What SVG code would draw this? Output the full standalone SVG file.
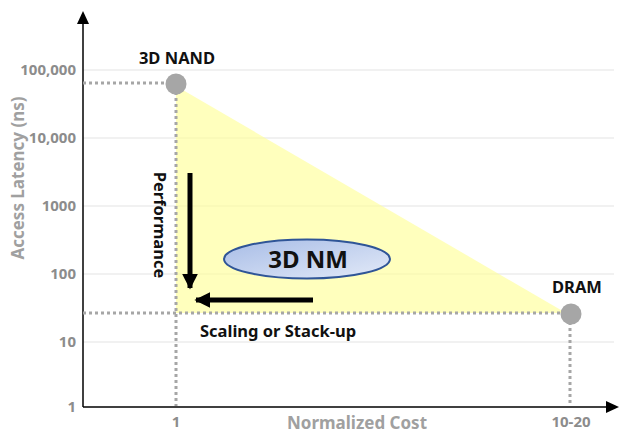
<svg xmlns="http://www.w3.org/2000/svg" width="619" height="435" viewBox="0 0 619 435">
<defs>
<style>
.grid{stroke:#e3e3e3;stroke-width:1}
.dot{stroke:#a6a6a6;stroke-width:3;stroke-dasharray:3 3;fill:none}
.tick{font-family:"Noto Sans","Liberation Sans",sans-serif;font-size:15px;font-weight:bold;fill:#8c8c8c}
.axl{font-family:"Noto Sans","Liberation Sans",sans-serif;font-size:17px;font-weight:bold;fill:#a0a0a0}
.lbl{font-family:"Noto Sans","Liberation Sans",sans-serif;font-size:16.5px;font-weight:bold;fill:#111}
.pt{fill:#a6a6a6}
.arr{stroke:#000;stroke-width:5;fill:none}
</style>
<linearGradient id="eg" x1="0" y1="0" x2="1" y2="1">
<stop offset="0" stop-color="#a7bce6"/>
<stop offset="1" stop-color="#e3eaf8"/>
</linearGradient>
<marker id="ah" viewBox="0 0 10 10" refX="9" refY="5" markerWidth="3.2" markerHeight="3.2" orient="auto" markerUnits="strokeWidth">
<path d="M0,0 L10,5 L0,10 z" fill="#000"/>
</marker>
</defs>
<rect width="619" height="435" fill="#fff"/>
<g id="grid">
<line class="grid" x1="83" y1="70" x2="614" y2="70"/>
<line class="grid" x1="83" y1="138" x2="614" y2="138"/>
<line class="grid" x1="83" y1="206" x2="614" y2="206"/>
<line class="grid" x1="83" y1="274" x2="614" y2="274"/>
<line class="grid" x1="83" y1="342" x2="614" y2="342"/>
</g>
<polygon id="region" points="176,86 176,313 566,313" fill="#ffff99" fill-opacity="0.65"/>
<g id="axes">
<line x1="83" y1="407" x2="83" y2="22" stroke="#000" stroke-width="1.5"/>
<polygon points="83,11 77,24 89,24" fill="#000"/>
<line x1="83" y1="407" x2="608" y2="407" stroke="#000" stroke-width="1.5"/>
<polygon points="619,407 606,401 606,413" fill="#000"/>
<text class="tick" x="76" y="75" text-anchor="end">100,000</text>
<text class="tick" x="76" y="143" text-anchor="end">10,000</text>
<text class="tick" x="76" y="211" text-anchor="end">1000</text>
<text class="tick" x="76" y="279" text-anchor="end">100</text>
<text class="tick" x="76" y="347" text-anchor="end">10</text>
<text class="tick" x="76" y="412" text-anchor="end">1</text>
<text class="tick" x="176" y="427" text-anchor="middle">1</text>
<text class="tick" x="571" y="427" text-anchor="middle">10-20</text>
<text class="axl" transform="translate(24,178) rotate(-90)" text-anchor="middle">Access Latency (ns)</text>
<text class="axl" x="357" y="429" text-anchor="middle">Normalized Cost</text>
</g>
<g id="connectors">
<line class="dot" x1="83" y1="83" x2="170" y2="83"/>
<line class="dot" x1="176" y1="92" x2="176" y2="406"/>
<line class="dot" x1="83" y1="313" x2="565" y2="313"/>
<line class="dot" x1="570" y1="322" x2="570" y2="406"/>
<line class="arr" x1="190" y1="173" x2="190" y2="288" marker-end="url(#ah)"/>
<line class="arr" x1="313" y1="300" x2="196" y2="300" marker-end="url(#ah)"/>
</g>
<g id="nand">
<circle class="pt" cx="176" cy="84" r="10.5"/>
<text class="lbl" x="177" y="64" text-anchor="middle">3D NAND</text>
</g>
<g id="dram">
<circle class="pt" cx="571" cy="314" r="10.5"/>
<text class="lbl" x="577" y="293" text-anchor="middle">DRAM</text>
</g>
<g id="nm">
<ellipse cx="307" cy="259" rx="83" ry="19.5" fill="url(#eg)" stroke="#2f5597" stroke-width="2"/>
<text x="308" y="268" text-anchor="middle" font-family="Noto Sans, Liberation Sans, sans-serif" font-size="24" font-weight="bold" fill="#111">3D NM</text>
</g>
<g id="labels">
<text class="lbl" transform="translate(154,225) rotate(90)" text-anchor="middle">Performance</text>
<text class="lbl" x="200" y="337">Scaling or Stack-up</text>
</g>
</svg>
